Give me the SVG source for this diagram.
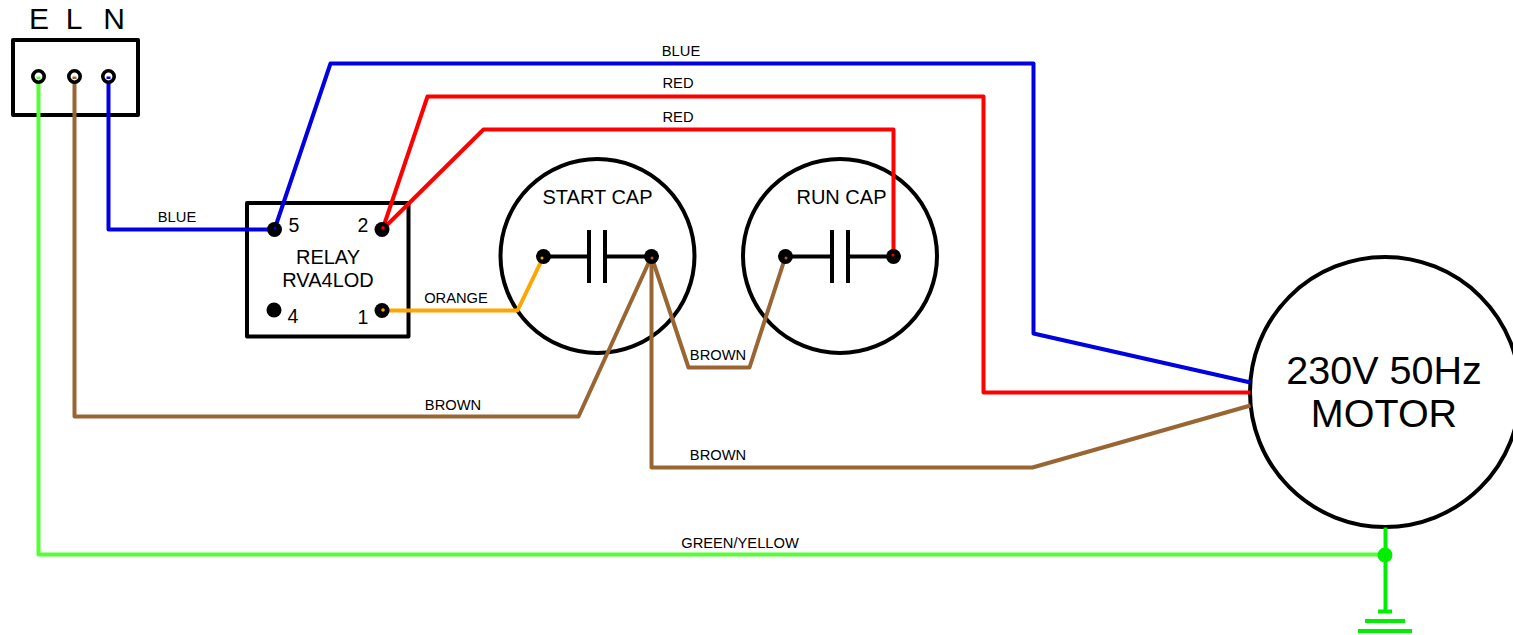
<svg xmlns="http://www.w3.org/2000/svg" width="1513" height="635" viewBox="0 0 1513 635">
<style>
text{font-family:"Liberation Sans",Arial,sans-serif;fill:#000;text-anchor:middle}
.w{fill:none;stroke-width:4;stroke-linejoin:round;stroke-linecap:butt}
.blue{stroke:#0000e0}.red{stroke:#ff0000}.brown{stroke:#996633}.orange{stroke:#ffa500}.lime{stroke:#55ff33}.gnd{stroke:#00ee00}
.box{fill:#fff;stroke:#000;stroke-width:4;stroke-linejoin:round}
.cap{fill:#fff;stroke:#000;stroke-width:4}
.ln{fill:none;stroke:#000;stroke-width:4}
.t{font-size:14.700px}.m{font-size:20px}.p{font-size:19.500px}.h{font-size:30px}.big{font-size:39.500px}
</style>
<defs><circle id="dot" r="7.500"/><circle id="ring" r="5.700" fill="#fff" stroke="#000" stroke-width="3.600"/></defs>

<g id="terminal-block"><rect class="box" x="13" y="40" width="125" height="75"/></g>
<g id="relay-box"><rect class="box" x="247" y="203" width="161.500" height="133.500"/></g>
<g id="start-cap-body"><circle class="cap" cx="597.500" cy="256" r="97"/></g>
<g id="run-cap-body"><circle class="cap" cx="840" cy="256" r="97"/></g>
<g id="motor-body"><circle class="cap" cx="1385" cy="392" r="135"/></g>

<g id="connectors" transform="translate(0.500 0.500)">
<path class="w blue" d="M108 76V229H274"/>
<path class="w blue" d="M274 229L330 63H1033V333L1250 382"/>
<path class="w red" d="M382 229L427 96H983V392H1250"/>
<path class="w red" d="M382 229L483 129H893V256"/>
<path class="w orange" d="M382 310H517L543 256"/>
<path class="w brown" d="M74 76V416H578L651 256"/>
<path class="w brown" d="M651 256V467H1032L1250 405"/>
<path class="w brown" d="M651 256L688 367H749L785 256"/>
<path class="w lime" d="M38 76V554H1385"/>
<path class="w gnd" d="M1385 527V611"/>
</g>

<g id="terminal-labels">
<text class="h" x="39" y="28.500">E</text><text class="h" x="74" y="28.500">L</text><text class="h" x="114" y="28.500">N</text>
</g>
<g id="terminal-E"><use href="#ring" x="38.500" y="76.500"/><path class="w lime" d="M38.500 76.500V79"/></g>
<g id="terminal-L"><use href="#ring" x="74.500" y="76.500"/><path class="w brown" d="M74.500 76.500V79"/></g>
<g id="terminal-N"><use href="#ring" x="108.500" y="76.500"/><path class="w blue" d="M108.500 76.500V79"/></g>

<g id="relay">
<use href="#dot" x="274.500" y="229.500"/><use href="#dot" x="382" y="229.500"/><use href="#dot" x="274" y="310"/><use href="#dot" x="382" y="310.500"/>
<circle cx="275" cy="228" r="1.500" fill="#0000e0"/><circle cx="383" cy="228" r="1.800" fill="#f00"/><circle cx="383" cy="310" r="1.800" fill="#ffa500"/>
<text class="p" x="294" y="232">5</text><text class="p" x="363" y="232">2</text><text class="p" x="293" y="323">4</text><text class="p" x="363" y="324">1</text>
<text class="m" x="328" y="264">RELAY</text><text class="m" x="328" y="287">RVA4LOD</text>
</g>

<g id="start-cap">
<path class="ln" d="M543 256.500H589M605 256.500H651M589 230V283M605 230V283"/>
<use href="#dot" x="543.500" y="256.500"/><use href="#dot" x="651.500" y="256.500"/>
<circle cx="542" cy="258" r="1.500" fill="#ffa500"/><circle cx="652" cy="258" r="1.500" fill="#996633"/>
<text class="m" x="597.500" y="204">START CAP</text>
</g>
<g id="run-cap">
<path class="ln" d="M785 256.500H832M848 256.500H893M832 230V283M848 230V283"/>
<use href="#dot" x="785.500" y="256.500"/><use href="#dot" x="893.500" y="256.500"/>
<circle cx="786" cy="258" r="1.500" fill="#996633"/><circle cx="893" cy="255" r="1.500" fill="#f00"/>
<text class="m" x="841.500" y="204">RUN CAP</text>
</g>
<g id="motor"><text class="big" x="1384" y="384">230V 50Hz</text><text class="big" x="1384" y="427">MOTOR</text></g>
<g id="earth">
<circle cx="1385" cy="555" r="7.500" fill="#00ee00"/>
<path class="w gnd" d="M1378 611.500H1392M1365 621H1405M1358 631H1412"/>
</g>

<g id="wire-labels">
<text class="t" x="681" y="56">BLUE</text><text class="t" x="678" y="88">RED</text><text class="t" x="678" y="122">RED</text>
<text class="t" x="177" y="222">BLUE</text><text class="t" x="456" y="303">ORANGE</text><text class="t" x="718" y="360">BROWN</text>
<text class="t" x="453" y="410">BROWN</text><text class="t" x="718" y="460">BROWN</text><text class="t" x="740" y="548">GREEN/YELLOW</text>
</g>
</svg>
